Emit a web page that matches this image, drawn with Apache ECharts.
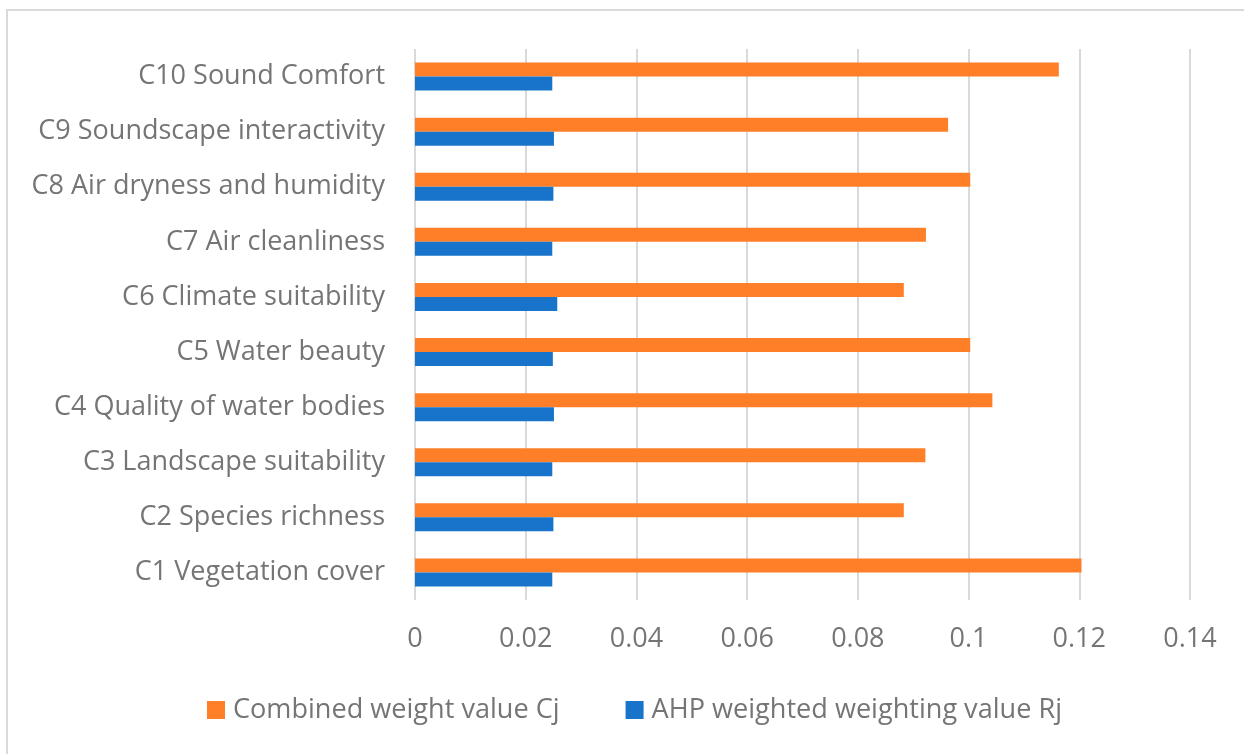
<!DOCTYPE html>
<html>
<head>
<meta charset="utf-8">
<script src="https://cdn.jsdelivr.net/npm/echarts@6/dist/echarts.min.js"></script>
<style>
html,body{margin:0;padding:0;background:#fff;}
#chart{width:1244px;height:754px;}
</style>
</head>
<body>
<div id="chart"></div>
<script>
const categories = [
  'C1 Vegetation cover',
  'C2 Species richness',
  'C3 Landscape suitability',
  'C4 Quality of water bodies',
  'C5 Water beauty',
  'C6 Climate suitability',
  'C7 Air cleanliness',
  'C8 Air dryness and humidity',
  'C9 Soundscape interactivity',
  'C10 Sound Comfort'
];
const combinedCj = [0.1204, 0.0883, 0.0922, 0.1043, 0.1003, 0.0883, 0.0923, 0.1003, 0.0963, 0.1163];
const ahpRj = [0.0248, 0.0250, 0.0248, 0.0251, 0.0249, 0.0257, 0.0248, 0.0250, 0.0251, 0.0248];
const seriesNames = ['Combined weight value Cj', 'AHP weighted weighting value Rj'];
const xTicks = { min: 0, max: 0.14, interval: 0.02 };

const FONT = 'Open Sans';
const TXT = '#757575';
const chart = echarts.init(document.getElementById('chart'), null, { renderer: 'canvas' });
chart.setOption({
  animation: false,
  backgroundColor: '#ffffff',
  graphic: [{
    type: 'rect',
    shape: { x: 7, y: 10, width: 1400, height: 900 },
    style: { fill: 'none', stroke: '#d9d9d9', lineWidth: 2 },
    silent: true
  }],
  grid: { left: 415, right: 54, top: 49, bottom: 154, containLabel: false },
  legend: {
    data: seriesNames,
    left: 207,
    top: 696,
    padding: 0,
    itemWidth: 18,
    itemHeight: 18,
    itemGap: 66,
    icon: 'rect',
    textStyle: { fontFamily: FONT, fontSize: 27.1, lineHeight: 28, color: TXT, padding: [0, 0, 0, 3] }
  },
  xAxis: {
    type: 'value',
    min: xTicks.min, max: xTicks.max, interval: xTicks.interval,
    axisLine: { show: false },
    axisTick: { show: false },
    splitLine: { show: true, lineStyle: { color: '#d9d9d9', width: 2 } },
    axisLabel: { fontFamily: FONT, fontSize: 27, color: TXT, margin: 26 }
  },
  yAxis: {
    type: 'category',
    data: categories,
    axisLine: { show: false },
    axisTick: { show: false },
    splitLine: { show: false },
    axisLabel: { fontFamily: FONT, fontSize: 27, color: TXT, margin: 30 }
  },
  series: [
    {
      name: seriesNames[0], type: 'bar', data: combinedCj,
      barWidth: 14, barGap: '0%',
      itemStyle: { color: '#FE7F28' }
    },
    {
      name: seriesNames[1], type: 'bar', data: ahpRj,
      barWidth: 14, barGap: '0%',
      itemStyle: { color: '#1874CA' }
    }
  ]
});
</script>
</body>
</html>
